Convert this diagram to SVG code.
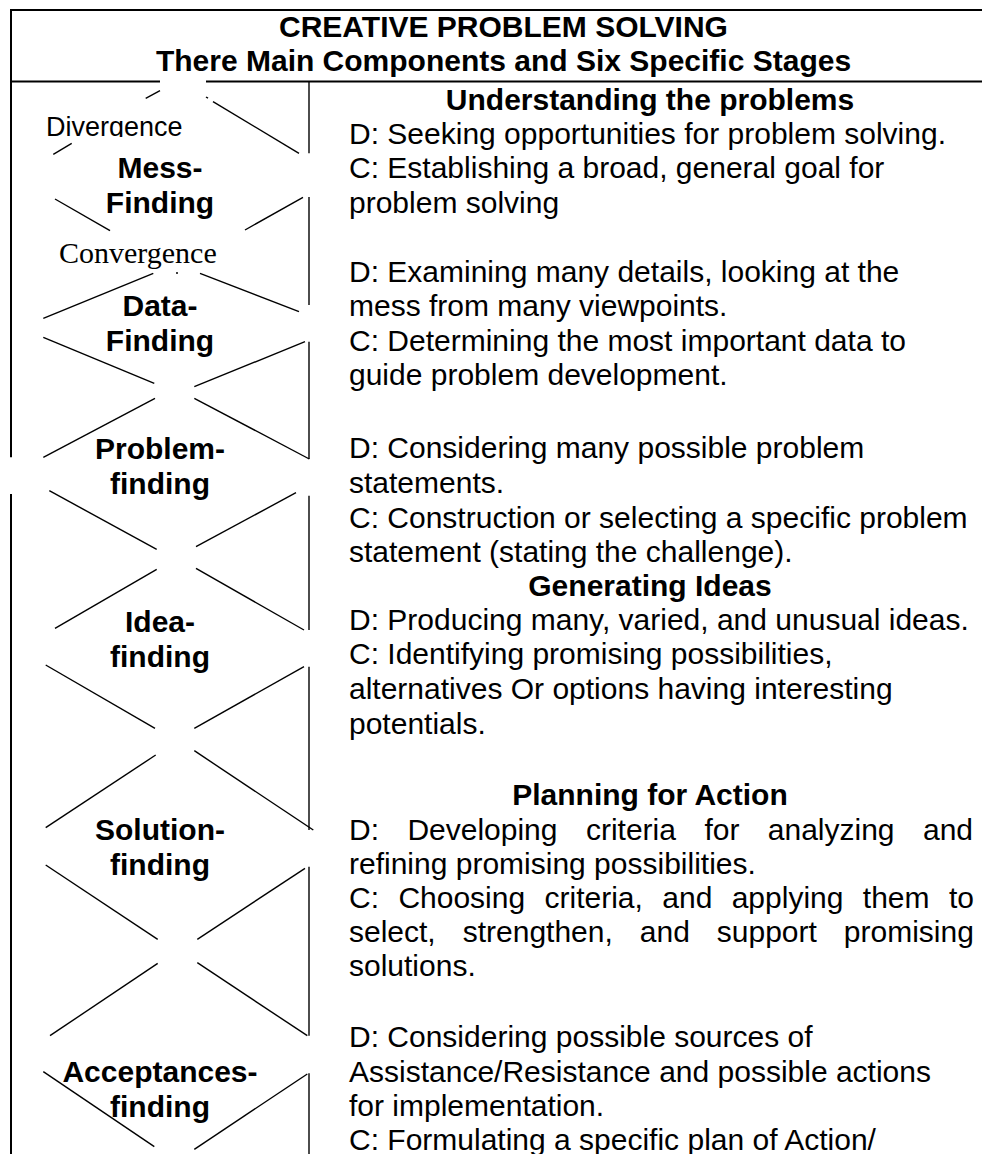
<svg xmlns="http://www.w3.org/2000/svg" width="982" height="1154" viewBox="0 0 982 1154">
<style>
.t{font-family:"Liberation Sans",Arial,sans-serif;font-size:30px;fill:#000}
.b{font-weight:bold}
.c{text-anchor:middle}
.e{text-anchor:end}
.lbl{font-family:"Liberation Sans",Arial,sans-serif;font-size:30px;font-weight:bold;text-anchor:middle;fill:#000}
.frame{stroke:#000;stroke-width:2;fill:none}
.col{stroke:#000;stroke-width:1.4;fill:none}
.d{stroke:#000;stroke-width:1.4;stroke-linecap:butt;fill:none}
</style>
<defs>
<clipPath id="divclip"><rect x="0" y="100" width="300" height="37"/></clipPath>
</defs>
<rect width="982" height="1154" fill="#fff"/>

<g id="frame">
<line class="frame" x1="10" y1="10" x2="982" y2="10"/>
<line class="frame" x1="11" y1="9" x2="11" y2="457.3"/>
<line class="frame" x1="11" y1="494" x2="11" y2="1154"/>
<line class="frame" x1="10" y1="81.5" x2="160" y2="81.5"/>
<line class="frame" x1="206" y1="81.5" x2="982" y2="81.5"/>
<line class="col" x1="309" y1="81.5" x2="309" y2="153.3"/>
<line class="col" x1="309" y1="197" x2="309" y2="305"/>
<line class="col" x1="309" y1="341.7" x2="309" y2="459"/>
<line class="col" x1="309" y1="495.7" x2="309" y2="630"/>
<line class="col" x1="309" y1="666.7" x2="309" y2="830"/>
<line class="col" x1="309" y1="866.7" x2="309" y2="1035.7"/>
<line class="col" x1="309" y1="1073.3" x2="309" y2="1154"/>
</g>

<g id="title">
<text class="t b c" x="503.5" y="37">CREATIVE PROBLEM SOLVING</text>
<text class="t b c" x="503.5" y="71">There Main Components and Six Specific Stages</text>
</g>

<g id="connectors">
<line class="d" x1="53.3" y1="154.3" x2="71.7" y2="143.3"/>
<line class="d" x1="145.7" y1="98.3" x2="160" y2="90.7"/>
<line class="d" x1="206" y1="97" x2="208" y2="98.2"/>
<line class="d" x1="213" y1="101.7" x2="299" y2="153.3"/>
<line class="d" x1="55" y1="199" x2="110" y2="230.7"/>
<line class="d" x1="245" y1="230" x2="303" y2="197.3"/>
<line class="d" x1="43.3" y1="318.3" x2="153.3" y2="273.3"/>
<line class="d" x1="200" y1="273.3" x2="299" y2="311.7"/>
<line class="d" x1="176" y1="273" x2="178" y2="273"/>
<line class="d" x1="43.3" y1="337.3" x2="154.3" y2="383.3"/>
<line class="d" x1="305" y1="341.7" x2="194.3" y2="386.7"/>
<line class="d" x1="43.3" y1="457.3" x2="155" y2="398.3"/>
<line class="d" x1="194.3" y1="398.3" x2="309.3" y2="459"/>
<line class="d" x1="49.3" y1="490.7" x2="156.7" y2="549.3"/>
<line class="d" x1="296" y1="492.7" x2="196" y2="546.7"/>
<line class="d" x1="156.7" y1="569.3" x2="55" y2="628.3"/>
<line class="d" x1="196" y1="568.3" x2="304" y2="630"/>
<line class="d" x1="45.7" y1="665" x2="155" y2="728.3"/>
<line class="d" x1="194.3" y1="728.3" x2="304" y2="666.7"/>
<line class="d" x1="155.7" y1="755" x2="45.7" y2="827.7"/>
<line class="d" x1="194.3" y1="750.7" x2="313.3" y2="830"/>
<line class="d" x1="45.7" y1="865" x2="157.7" y2="939.3"/>
<line class="d" x1="305" y1="868.3" x2="197.3" y2="939.3"/>
<line class="d" x1="157.7" y1="963.3" x2="50" y2="1035.7"/>
<line class="d" x1="197.3" y1="962.7" x2="307.3" y2="1035.7"/>
<line class="d" x1="43.3" y1="1071.7" x2="154.3" y2="1146.7"/>
<line class="d" x1="307.3" y1="1074" x2="194.3" y2="1149.3"/>
</g>

<g id="divergence">
<text x="46" y="136" clip-path="url(#divclip)" style="font-family:'Liberation Sans',Arial,sans-serif;font-size:27px;fill:#000">Divergence</text>
</g>
<g id="convergence">
<text x="59" y="263" style="font-family:'Liberation Serif','Times New Roman',serif;font-size:30px;fill:#000">Convergence</text>
</g>

<g id="stage-mess"><text class="lbl" x="160" y="178">Mess-</text><text class="lbl" x="160" y="213">Finding</text></g>
<g id="stage-data"><text class="lbl" x="160" y="316">Data-</text><text class="lbl" x="160" y="350.5">Finding</text></g>
<g id="stage-problem"><text class="lbl" x="160" y="458.5">Problem-</text><text class="lbl" x="160" y="494">finding</text></g>
<g id="stage-idea"><text class="lbl" x="160" y="632">Idea-</text><text class="lbl" x="160" y="666.5">finding</text></g>
<g id="stage-solution"><text class="lbl" x="160" y="840">Solution-</text><text class="lbl" x="160" y="874.5">finding</text></g>
<g id="stage-acceptance"><text class="lbl" x="160" y="1082">Acceptances-</text><text class="lbl" x="160" y="1116.5">finding</text></g>

<g id="understanding">
<text class="t b c" x="650" y="110">Understanding the problems</text>
<text class="t" x="349" y="143.5">D: Seeking opportunities for problem solving.</text>
<text class="t" x="349" y="178">C: Establishing a broad, general goal for</text>
<text class="t" x="349" y="213">problem solving</text>
<text class="t" x="349" y="282">D: Examining many details, looking at the</text>
<text class="t" x="349" y="316">mess from many viewpoints.</text>
<text class="t" x="349" y="350.5">C: Determining the most important data to</text>
<text class="t" x="349" y="385">guide problem development.</text>
<text class="t" x="349" y="458">D: Considering many possible problem</text>
<text class="t" x="349" y="493">statements.</text>
<text class="t" x="349" y="527.5">C: Construction or selecting a specific problem</text>
<text class="t" x="349" y="562">statement (stating the challenge).</text>
</g>

<g id="generating">
<text class="t b c" x="650" y="595.5">Generating Ideas</text>
<text class="t" x="349" y="630">D: Producing many, varied, and unusual ideas.</text>
<text class="t" x="349" y="664">C: Identifying promising possibilities,</text>
<text class="t" x="349" y="699">alternatives Or options having interesting</text>
<text class="t" x="349" y="734">potentials.</text>
</g>

<g id="planning">
<text class="t b c" x="650" y="805">Planning for Action</text>
<text class="t" y="839.5"><tspan x="349">D:</tspan><tspan x="407.4">Developing</tspan><tspan x="585.9">criteria</tspan><tspan x="704.4">for</tspan><tspan x="767.8">analyzing</tspan><tspan x="923">and</tspan></text>
<text class="t" x="349" y="873.5">refining promising possibilities.</text>
<text class="t" y="908"><tspan x="349">C:</tspan><tspan x="398.4">Choosing</tspan><tspan x="544.5">criteria,</tspan><tspan x="662.3">and</tspan><tspan x="731.7">applying</tspan><tspan x="862.8">them</tspan><tspan x="948.9">to</tspan></text>
<text class="t" y="942"><tspan x="349">select,</tspan><tspan x="462.7">strengthen,</tspan><tspan x="639.8">and</tspan><tspan x="716.8">support</tspan><tspan x="843.8">promising</tspan></text>
<text class="t" x="349" y="976">solutions.</text>
<text class="t" x="349" y="1047">D: Considering possible sources of</text>
<text class="t" x="349" y="1081.5">Assistance/Resistance and possible actions</text>
<text class="t" x="349" y="1115.5">for implementation.</text>
<text class="t" x="349" y="1150">C: Formulating a specific plan of Action/</text>
</g>
</svg>
